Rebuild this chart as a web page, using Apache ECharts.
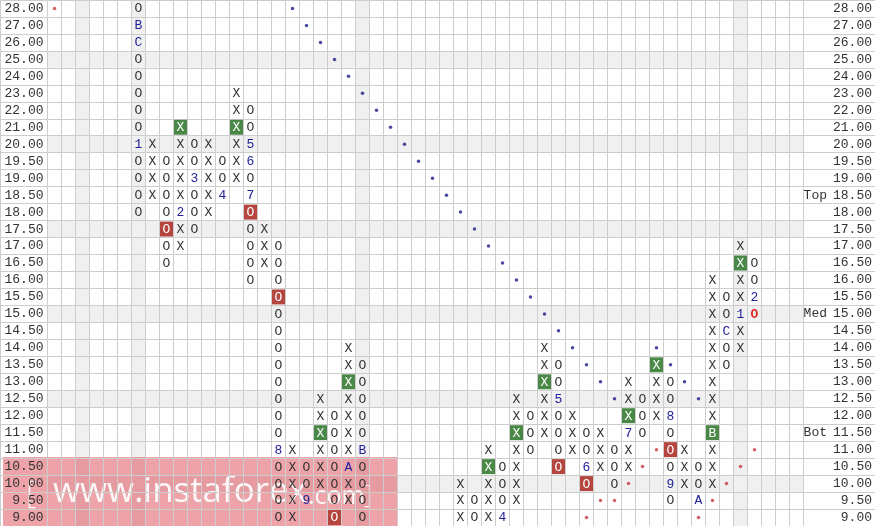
<!DOCTYPE html>
<html><head><meta charset="utf-8">
<script src="https://cdn.jsdelivr.net/npm/echarts@6/dist/echarts.min.js"></script>
<style>html,body{margin:0;padding:0;background:#fff}#c{width:875px;height:526px}</style>
</head><body><div id="c"></div>
<script>
// Price rows, bottom to top (category axis)
const rows = ['9.00','9.50','10.00','10.50','11.00','11.50','12.00','12.50','13.00','13.50','14.00','14.50','15.00','15.50','16.00','16.50','17.00','17.50','18.00','18.50','19.00','19.50','20.00','21.00','22.00','23.00','24.00','25.00','26.00','27.00','28.00'];
const columnCount = 54;
// Right side markers
const sideMarks = {'18.50':'Top','15.00':'Med','11.50':'Bot'};
// Shaded rows / columns
const shadedRows = ['25.00','20.00','17.50','15.00','12.50','10.00'];
const shadedCols = [2, 6, 22, 49];
// Point & figure columns: [column, lowest row, boxes from bottom to top]
const pfColumns = [
  [6,'18.00','OOOO1OOOOOCBO'],
  [7,'18.50','XXXX'],
  [8,'16.50','OOOOOOO'],
  [9,'17.00','XX2XXXXX'],
  [10,'17.50','OOO3OO'],
  [11,'18.00','XXXXX'],
  [12,'18.50','4OO'],
  [13,'19.00','XXXXXX'],
  [14,'16.00','OOOOO7O65OO'],
  [15,'16.50','XXX'],
  [16,'9.00','OOOO8OOOOOOOOOOOO'],
  [17,'9.00','XXXXX'],
  [18,'9.50','9OO'],
  [19,'10.00','XXXXXX'],
  [20,'9.00','OOOOOOO'],
  [21,'9.50','XXAXXXXXXX'],
  [22,'9.00','OOOOBOOOOO'],
  [29,'9.00','XXX'],
  [30,'9.00','OO'],
  [31,'9.00','XXXXX'],
  [32,'9.00','4OOO'],
  [33,'9.50','XXXXXXX'],
  [34,'11.00','OOO'],
  [35,'11.50','XXXXXX'],
  [36,'10.50','OOOO5OO'],
  [37,'11.00','XXX'],
  [38,'10.00','O6OO'],
  [39,'10.50','XXX'],
  [40,'10.00','OOO'],
  [41,'10.50','XX7XXX'],
  [42,'11.50','OOO'],
  [43,'12.00','XXXX'],
  [44,'9.50','O9OOO8OO'],
  [45,'10.00','XXX'],
  [46,'9.50','AOO'],
  [47,'10.00','XXXBXXXXXXXXX'],
  [48,'13.50','OOCOO'],
  [49,'14.00','XX1XXXX'],
  [50,'15.00','O2OO']
];
const greenBoxes = [[9,'21.00'],[13,'21.00'],[19,'11.50'],[21,'13.00'],[31,'10.50'],[33,'11.50'],[35,'13.00'],[41,'12.00'],[43,'13.50'],[47,'11.50'],[49,'16.50']];
const redBoxes = [[8,'17.50'],[14,'18.00'],[16,'15.50'],[20,'9.00'],[36,'10.50'],[38,'10.00'],[44,'11.00']];
const currentBox = [[50,'15.00']];
const blueDots = [[17,'28.00'],[18,'27.00'],[19,'26.00'],[20,'25.00'],[21,'24.00'],[22,'23.00'],[23,'22.00'],[24,'21.00'],[25,'20.00'],[26,'19.50'],[27,'19.00'],[28,'18.50'],[29,'18.00'],[30,'17.50'],[31,'17.00'],[32,'16.50'],[33,'16.00'],[34,'15.50'],[35,'15.00'],[36,'14.50'],[37,'14.00'],[38,'13.50'],[39,'13.00'],[40,'12.50'],[43,'14.00'],[44,'13.50'],[45,'13.00'],[46,'12.50']];
const redDots = [[0,'28.00'],[38,'9.00'],[39,'9.50'],[40,'9.50'],[41,'10.00'],[42,'10.50'],[43,'11.00'],[46,'9.00'],[47,'9.50'],[48,'10.00'],[49,'10.50'],[50,'11.00']];

const FONT = '"Liberation Mono", "Courier New", monospace';
const GRID_C = '#cdcdcd';
const colCats = Array.from({length: columnCount}, (_, i) => String(i));
const ri = r => rows.indexOf(r);
const key = (c, r) => c + '|' + r;
const greenSet = new Set(greenBoxes.map(d => key(d[0], d[1])));
const redSet = new Set(redBoxes.map(d => key(d[0], d[1])));
const curSet = new Set(currentBox.map(d => key(d[0], d[1])));

const cells = [];
pfColumns.forEach(([c, low, s]) => {
  const start = ri(low);
  for (let k = 0; k < s.length; k++) {
    cells.push({c, r: rows[start + k], ch: s[k]});
  }
});

// watermark text sizing (decoration)
const WM_FONT = '"Open Sans", "Noto Sans", sans-serif';
const mctx = document.createElement('canvas').getContext('2d');
mctx.font = '40px ' + WM_FONT;
const wBase = mctx.measureText('www.instaforex').width;
const wmSize = 40 * 254 / wBase;
const wmEnd = 53 + 254;

const chart = echarts.init(document.getElementById('c'), null, {renderer: 'canvas'});
const G = {top: 0, height: 527};
chart.setOption({
  animation: false,
  backgroundColor: '#fff',
  grid: [
    Object.assign({left: 0, right: 0}, G),
    Object.assign({left: 0, width: 829.5}, G),
    Object.assign({left: 47.5, width: 756}, G)
  ],
  xAxis: [
    {gridIndex: 0, type: 'value', show: false, min: 0, max: 1},
    {gridIndex: 1, type: 'value', show: false, min: 0, max: 1},
    {gridIndex: 2, type: 'category', data: colCats, boundaryGap: true,
     axisLine: {show: false}, axisTick: {show: false, interval: 0}, axisLabel: {show: false, interval: 0},
     splitLine: {show: true, interval: 0, lineStyle: {color: GRID_C, width: 1}}}
  ],
  yAxis: [
    {gridIndex: 0, type: 'category', data: rows, position: 'left',
     axisLine: {show: true, lineStyle: {color: GRID_C}}, axisTick: {show: false, interval: 0}, axisLabel: {show: false, interval: 0},
     splitLine: {show: true, interval: 0, lineStyle: {color: GRID_C, width: 1}}},
    {gridIndex: 1, type: 'category', data: rows, position: 'right',
     axisLine: {show: true, lineStyle: {color: GRID_C}}, axisTick: {show: false},
     splitLine: {show: false},
     axisLabel: {interval: 0, margin: 44, align: 'right',
       formatter: v => (sideMarks[v] ? '{t|' + sideMarks[v] + '}' : '') + '{v|' + v + '}',
       rich: {
         t: {fontFamily: FONT, fontSize: 13, color: '#333', padding: [0, 6, 0, 0]},
         v: {fontFamily: FONT, fontSize: 13, color: '#333'}
       }}},
    {gridIndex: 2, type: 'category', data: rows, position: 'left',
     axisLine: {show: true, lineStyle: {color: GRID_C}}, axisTick: {show: false, interval: 0},
     axisLabel: {interval: 0, margin: 4, fontFamily: FONT, fontSize: 13, color: '#333'},
     splitLine: {show: true, interval: 0, lineStyle: {color: GRID_C, width: 1}}}
  ],
  series: [
    {
      type: 'custom', xAxisIndex: 2, yAxisIndex: 2, z: -5, silent: true,
      data: shadedRows.map(r => [0, ri(r)]),
      renderItem: (params, api) => {
        const p = api.coord([0, api.value(1)]);
        const h = api.size([1, 1])[1];
        const cs = params.coordSys;
        return {type: 'rect', shape: {x: cs.x, y: p[1] - h / 2, width: cs.width, height: h}, style: {fill: '#f0f0f0'}};
      }
    },
    {
      type: 'custom', xAxisIndex: 2, yAxisIndex: 2, z: -5, silent: true,
      data: shadedCols.map(c => [c, 0]),
      renderItem: (params, api) => {
        const p = api.coord([api.value(0), 0]);
        const w = api.size([1, 1])[0];
        const cs = params.coordSys;
        return {type: 'rect', shape: {x: p[0] - w / 2, y: cs.y, width: w, height: cs.height}, style: {fill: '#f0f0f0'}};
      }
    },
    {
      type: 'custom', xAxisIndex: 2, yAxisIndex: 2, z: 5, silent: true,
      data: cells.map(d => [d.c, ri(d.r)]),
      renderItem: (params, api) => {
        const d = cells[params.dataIndex];
        const p = api.coord([api.value(0), api.value(1)]);
        const s = api.size([1, 1]);
        const k = key(d.c, d.r);
        const children = [];
        let fill = /[XO]/.test(d.ch) ? '#333' : '#22229a';
        let weight = 'normal';
        if (greenSet.has(k) || redSet.has(k)) {
          children.push({type: 'rect', shape: {x: p[0] - s[0] / 2 + 0.5, y: p[1] - s[1] / 2 + 1, width: s[0] - 1, height: s[1] - 2},
            style: {fill: greenSet.has(k) ? '#4a8848' : '#b5463f'}});
          fill = '#fff';
        }
        if (curSet.has(k)) { fill = '#e02828'; weight = 'bold'; }
        children.push({type: 'text', style: {text: d.ch, x: p[0], y: p[1] + 0.5, align: 'center', verticalAlign: 'middle',
          font: weight + ' 13px ' + FONT, fill: fill}});
        return {type: 'group', children};
      }
    },
    {
      type: 'scatter', xAxisIndex: 2, yAxisIndex: 2, z: 6, silent: true, symbol: 'circle', symbolSize: 3.5,
      itemStyle: {color: '#1c1c8a'},
      data: blueDots.map(d => [d[0], ri(d[1])])
    },
    {
      type: 'scatter', xAxisIndex: 2, yAxisIndex: 2, z: 6, silent: true, symbol: 'circle', symbolSize: 3.5,
      itemStyle: {color: '#c83a3a'},
      data: redDots.map(d => [d[0], ri(d[1])])
    }
  ],
  graphic: [
    {type: 'group', z: 100, silent: true, children: [
      {type: 'rect', shape: {x: 3, y: 457, width: 394, height: 70}, style: {fill: 'rgba(214,52,62,0.45)'}},
      {type: 'text', style: {text: '[', x: 26, y: 494, font: '300 32px ' + WM_FONT, fill: 'rgba(255,255,255,0.9)', verticalAlign: 'middle'}},
      {type: 'text', style: {text: 'www.instaforex', x: 53, y: 492.5, font: wmSize.toFixed(2) + 'px ' + WM_FONT, fill: 'rgba(255,255,255,0.92)', verticalAlign: 'middle'}},
      {type: 'text', style: {text: '.com', x: wmEnd + 1, y: 496.5, font: '25px ' + WM_FONT, fill: 'rgba(255,255,255,0.92)', verticalAlign: 'middle'}},
      {type: 'text', style: {text: ']', x: 364, y: 496, font: '300 26px ' + WM_FONT, fill: 'rgba(255,255,255,0.9)', verticalAlign: 'middle'}}
    ]}
  ]
});
</script></body></html>
